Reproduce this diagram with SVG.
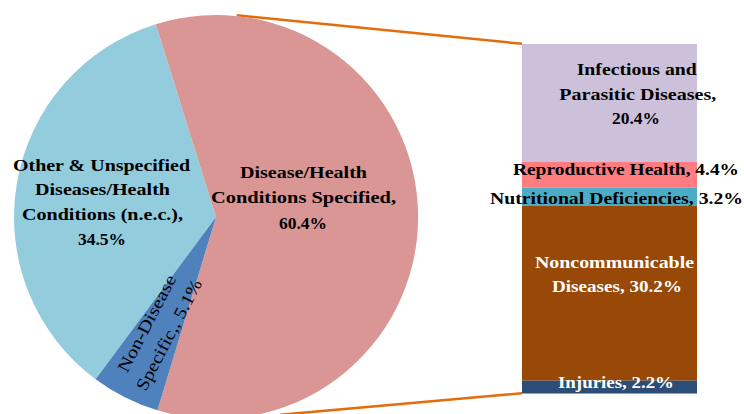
<svg xmlns="http://www.w3.org/2000/svg" width="744" height="414" viewBox="0 0 744 414">
<style>
.lbl{font-family:"Liberation Serif","Times New Roman",serif;font-size:17.5px;font-weight:bold;fill:#000}
.w{fill:#fff}
.reg{font-weight:normal}
.conn{stroke:#E46C0A;stroke-width:2.5;fill:none}
</style>
<rect x="0" y="0" width="744" height="414" fill="#fff"/>
<g id="connectors">
<line class="conn" x1="236.7" y1="15.3" x2="522" y2="43.8"/>
<line class="conn" x1="280" y1="414.8" x2="522" y2="393.3"/>
</g>
<g id="pie-other">
<path d="M216,217 L95.6,379.2 A202,202 0 0 1 155.8,24.2 Z" fill="#93CDDD"/>
<text class="lbl" x="13" y="171" textLength="177" lengthAdjust="spacingAndGlyphs">Other &amp; Unspecified</text>
<text class="lbl" x="35" y="195" textLength="135" lengthAdjust="spacingAndGlyphs">Diseases/Health</text>
<text class="lbl" x="22" y="220" textLength="161" lengthAdjust="spacingAndGlyphs">Conditions (n.e.c.),</text>
<text class="lbl" x="78" y="245" textLength="48" lengthAdjust="spacingAndGlyphs">34.5%</text>
</g>
<g id="pie-specified">
<path d="M216,217 L155.8,24.2 A202,202 0 1 1 157.5,410.3 Z" fill="#D99694"/>
<text class="lbl" x="240" y="178" textLength="127" lengthAdjust="spacingAndGlyphs">Disease/Health</text>
<text class="lbl" x="211" y="203" textLength="185" lengthAdjust="spacingAndGlyphs">Conditions Specified,</text>
<text class="lbl" x="279" y="229" textLength="48" lengthAdjust="spacingAndGlyphs">60.4%</text>
</g>
<g id="pie-nondisease">
<path d="M216,217 L157.5,410.3 A202,202 0 0 1 95.6,379.2 Z" fill="#4F81BD"/>
<g transform="translate(152,326) rotate(-62.5)">
<text class="lbl reg" x="-53.5" y="0" textLength="107" lengthAdjust="spacingAndGlyphs">Non-Disease</text>
<text class="lbl reg" x="-61.5" y="25" textLength="123" lengthAdjust="spacingAndGlyphs">Specific,, 5.1%</text>
</g>
</g>
<g id="bar-infectious">
<rect x="522" y="44" width="175" height="118" fill="#CCC0DA"/>
<text class="lbl" x="576.7" y="75" textLength="120" lengthAdjust="spacingAndGlyphs">Infectious and</text>
<text class="lbl" x="559.3" y="100" textLength="157" lengthAdjust="spacingAndGlyphs">Parasitic Diseases,</text>
<text class="lbl" x="612" y="124.3" textLength="48" lengthAdjust="spacingAndGlyphs">20.4%</text>
</g>
<g id="bar-reproductive">
<rect x="522" y="162" width="175" height="25.5" fill="#FF7C80"/>
<text class="lbl" x="513" y="175" textLength="226" lengthAdjust="spacingAndGlyphs">Reproductive Health, 4.4%</text>
</g>
<g id="bar-nutritional">
<rect x="522" y="187.5" width="175" height="18.5" fill="#4BACC6"/>
<text class="lbl" x="490" y="204" textLength="253" lengthAdjust="spacingAndGlyphs">Nutritional Deficiencies, 3.2%</text>
</g>
<g id="bar-noncommunicable">
<rect x="522" y="206" width="175" height="174.7" fill="#984807"/>
<text class="lbl w" x="535" y="268" textLength="159" lengthAdjust="spacingAndGlyphs">Noncommunicable</text>
<text class="lbl w" x="552" y="292" textLength="130" lengthAdjust="spacingAndGlyphs">Diseases, 30.2%</text>
</g>
<g id="bar-injuries">
<rect x="522" y="380.7" width="175" height="12.8" fill="#2C4D75"/>
<text class="lbl w" x="558" y="388" textLength="116" lengthAdjust="spacingAndGlyphs">Injuries, 2.2%</text>
</g>
</svg>
